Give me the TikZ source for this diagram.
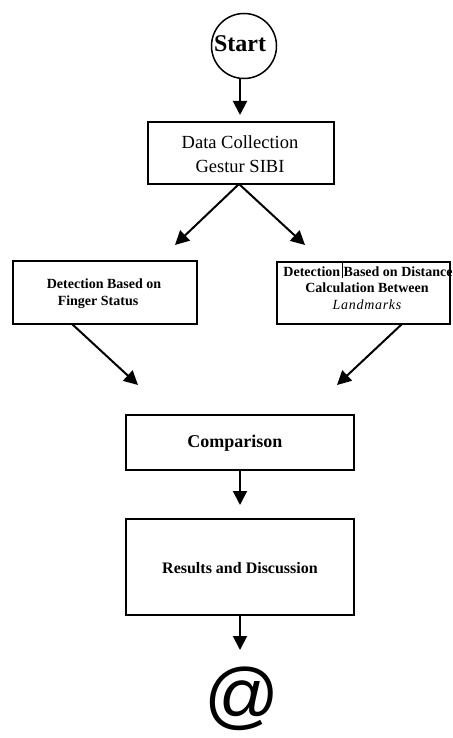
\documentclass[tikz,border=0pt]{standalone}
\usepackage{fontspec}
\setmainfont{Liberation Serif}
\newfontfamily\atfont{Liberation Sans}
\newfontfamily\spacedital[LetterSpace=5]{Liberation Serif Italic}
\usetikzlibrary{arrows.meta}
\begin{document}
\begin{tikzpicture}[x=1pt,y=-1pt,
  box/.style={draw,line width=1.8pt,inner sep=0pt},
  arr/.style={line width=2pt,-{Triangle[width=14pt,length=14pt]}},
  lbl/.style={inner sep=0pt,align=center}]
\useasboundingbox (0,0) rectangle (452,738);
% start
\node[draw,circle,line width=1.5pt,minimum size=65pt,inner sep=0pt] (start) at (244,46) {};
\node[lbl,font=\fontsize{24}{28}\selectfont\bfseries] (starttxt) at (240,44) {Start};
% boxes
\node[box,minimum width=186pt,minimum height=62pt] (data) at (241,153) {};
\node[lbl,font=\fontsize{18.5}{24}\selectfont] (datatxt) at (240,154) {Data Collection\\Gestur SIBI};
\node[box,minimum width=184pt,minimum height=63pt] (left) at (105,292.5) {};
\node[lbl,font=\fontsize{14}{18}\selectfont\bfseries] (lefta) at (104,284) {Detection Based on};
\node[lbl,font=\fontsize{14}{18}\selectfont\bfseries] (leftb) at (98,302) {Finger Status};
\node[box,minimum width=173pt,minimum height=62pt] (right) at (363.5,293) {};
\node[lbl,font=\fontsize{14}{17}\selectfont\bfseries] (righta) at (368,272) {Detection Based on Distance};
\node[lbl,font=\fontsize{14}{17}\selectfont\bfseries] (rightb) at (367,288) {Calculation Between};
\node[lbl,font=\fontsize{14}{17}\selectfont\spacedital] (rightc) at (367,305) {Landmarks};
\coordinate (cur1) at (342,263);
\coordinate (cur2) at (342,278);
\draw[line width=0.8pt] (cur1) -- (cur2);
\node[box,minimum width=228pt,minimum height=55pt] (comp) at (240,442.5) {};
\node[lbl,font=\fontsize{18}{22}\selectfont\bfseries] (comptxt) at (235,443) {Comparison};
\node[box,minimum width=228pt,minimum height=96pt] (res) at (240,567) {};
\node[lbl,font=\fontsize{16}{19}\selectfont\bfseries] (restxt) at (240,568) {Results and Discussion};
\node[lbl,font=\fontsize{74}{80}\selectfont\atfont] (at) at (242,699) {@};
% connectors
\coordinate (a1e) at (240,115);
\draw[arr] (240,78.5) -- (a1e);
\coordinate (apex) at (239,184);
\coordinate (dl) at (175,245);
\coordinate (dr) at (305,245);
\draw[arr] (apex) -- (dl);
\draw[arr] (apex) -- (dr);
\coordinate (ls) at (72,324);
\coordinate (le) at (138,385);
\draw[arr] (ls) -- (le);
\coordinate (rs) at (402,324);
\coordinate (re) at (337,385);
\draw[arr] (rs) -- (re);
\coordinate (c1) at (240,470);
\coordinate (c2) at (240,505);
\draw[arr] (c1) -- (c2);
\coordinate (r1) at (240,615);
\coordinate (r2) at (240,650);
\draw[arr] (r1) -- (r2);
\end{tikzpicture}
\end{document}
